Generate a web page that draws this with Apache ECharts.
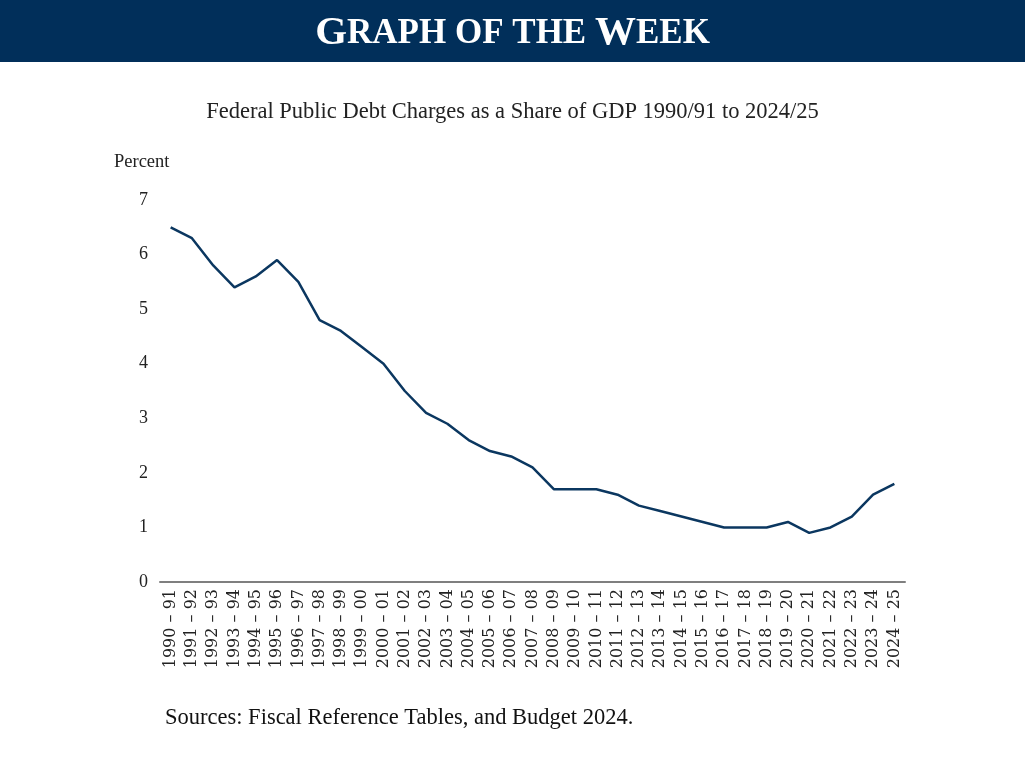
<!DOCTYPE html>
<html>
<head>
<meta charset="utf-8">
<script src="https://cdn.jsdelivr.net/npm/echarts@6/dist/echarts.min.js"></script>
<style>
  html, body { margin: 0; padding: 0; background: #fff; }
  #chart { width: 1025px; height: 772px; }
</style>
</head>
<body>
<div id="chart"></div>
<script>
// fiscal years
var years = ['1990 – 91', '1991 – 92', '1992 – 93', '1993 – 94', '1994 – 95', '1995 – 96',
    '1996 – 97', '1997 – 98', '1998 – 99', '1999 – 00', '2000 – 01', '2001 – 02', '2002 – 03',
    '2003 – 04', '2004 – 05', '2005 – 06', '2006 – 07', '2007 – 08', '2008 – 09', '2009 – 10',
    '2010 – 11', '2011 – 12', '2012 – 13', '2013 – 14', '2014 – 15', '2015 – 16', '2016 – 17',
    '2017 – 18', '2018 – 19', '2019 – 20', '2020 – 21', '2021 – 22', '2022 – 23', '2023 – 24',
    '2024 – 25'];

// debt charges, % of GDP
var debtCharges = [6.5, 6.3, 5.8, 5.4, 5.6, 5.9, 5.5, 4.8, 4.6, 4.3, 4.0, 3.5, 3.1, 2.9,
    2.6, 2.4, 2.3, 2.1, 1.7, 1.7, 1.7, 1.6, 1.4, 1.3, 1.2, 1.1, 1.0, 1.0, 1.0, 1.1, 0.9,
    1.0, 1.2, 1.6, 1.8];

var serif = '"Liberation Serif", "DejaVu Serif", serif';
var wideSerif = '"DejaVu Serif", "Liberation Serif", serif';

var myChart = echarts.init(document.getElementById('chart'));
var option = {
    backgroundColor: '#fff',
    animation: false,
    graphic: [
        {
            type: 'rect',
            left: 0, top: 0,
            shape: { width: 1025, height: 62 },
            style: { fill: '#012f5a' }
        }
    ],
    title: [
        {
            // small caps done by hand
            text: '{a|G}{b|RAPH OF THE }{a|W}{b|EEK}',
            left: 'center',
            top: 8,
            textStyle: {
                rich: {
                    a: { color: '#fff', fontFamily: serif, fontWeight: 'bold', fontSize: 41 },
                    b: { color: '#fff', fontFamily: serif, fontWeight: 'bold', fontSize: 35 }
                }
            }
        },
        {
            text: 'Federal Public Debt Charges as a Share of GDP 1990/91 to 2024/25',
            left: 'center',
            top: 96,
            textStyle: { color: '#222', fontFamily: serif, fontWeight: 'normal', fontSize: 22.5 }
        },
        {
            text: 'Percent',
            left: 109,
            top: 148,
            textStyle: { color: '#222', fontFamily: serif, fontWeight: 'normal', fontSize: 18.5 }
        },
        {
            text: 'Sources: Fiscal Reference Tables, and Budget 2024.',
            left: 160,
            top: 702,
            textStyle: { color: '#111', fontFamily: serif, fontWeight: 'normal', fontSize: 22.5 }
        }
    ],
    grid: { left: 160, right: 120, top: 200, bottom: 190 },
    xAxis: {
        type: 'category',
        data: years,
        boundaryGap: true,
        axisLine: { lineStyle: { color: '#7f7f7f', width: 2 } },
        axisTick: { show: false },
        axisLabel: {
            interval: 0,
            rotate: 90,
            margin: 7,
            color: '#222',
            fontFamily: wideSerif,
            fontSize: 16
        }
    },
    yAxis: {
        type: 'value',
        min: 0,
        max: 7,
        interval: 1,
        axisLine: { show: false },
        axisTick: { show: false },
        splitLine: { show: false },
        axisLabel: {
            margin: 12,
            color: '#222',
            fontFamily: serif,
            fontSize: 18,
            padding: [0, 0, 10, 0]
        }
    },
    series: [
        {
            name: 'Debt charges',
            type: 'line',
            data: debtCharges,
            symbol: 'none',
            lineStyle: { color: '#0b3760', width: 2.5 }
        }
    ]
};
myChart.setOption(option);
</script>
</body>
</html>
